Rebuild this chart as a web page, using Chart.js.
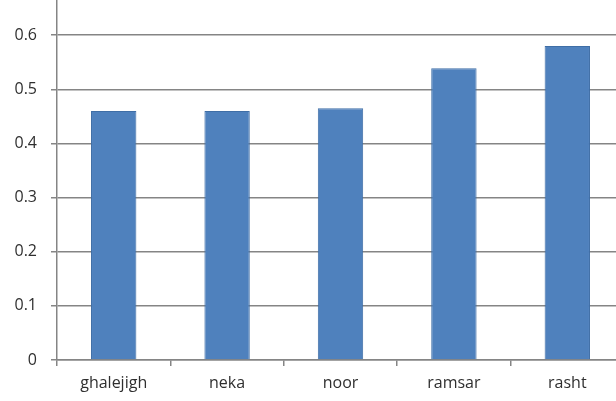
<!DOCTYPE html>
<html>
<head>
<meta charset="utf-8">
<script src="https://cdn.jsdelivr.net/npm/chart.js@4.4.1/dist/chart.umd.min.js"></script>
<style>
  html, body { margin: 0; padding: 0; background: #fff; overflow: hidden; }
  #wrap { width: 624px; height: 401px; }
</style>
</head>
<body>
<div id="wrap"><canvas id="barChart"></canvas></div>
<script>
var cities = ["ghalejigh", "neka", "noor", "ramsar", "rasht"];
var values = [0.46, 0.46, 0.465, 0.539, 0.58];
var yTicks = [0, 0.1, 0.2, 0.3, 0.4, 0.5, 0.6];

var ctx = document.getElementById("barChart").getContext('2d');
var barChart = new Chart(ctx, {
  type: 'bar',
  data: {
    labels: cities,
    datasets: [{
      label: "value",
      data: values,
      backgroundColor: '#4f81bd',
      borderColor: '#3f6ea6',
      borderWidth: 1,
      barPercentage: 0.4,
      categoryPercentage: 1
    }]
  },
  options: {
    responsive: true,
    maintainAspectRatio: false,
    animation: false,
    layout: { padding: 0 },
    plugins: {
      legend: { display: false },
      tooltip: { enabled: false }
    },
    scales: {
      x: {
        offset: true,
        grid: {
          offset: true,
          drawOnChartArea: false,
          drawTicks: true,
          tickLength: 6,
          color: '#858585',
          lineWidth: 1.5
        },
        border: { color: '#858585', width: 1.5 },
        ticks: {
          color: '#2f2f2f',
          padding: 8,
          maxRotation: 0,
          font: { family: 'Open Sans', size: 16 }
        },
        afterFit: function (scale) {
          scale.height = 41;
          scale.paddingLeft = 0;
          scale.paddingRight = 0;
        }
      },
      y: {
        min: 0,
        max: 0.665,
        afterBuildTicks: function (scale) {
          scale.ticks = yTicks.map(function (v) { return { value: v }; });
        },
        grid: {
          color: '#858585',
          lineWidth: 1.5,
          tickLength: 6
        },
        border: { color: '#858585', width: 1.5 },
        ticks: {
          color: '#2f2f2f',
          padding: 14,
          font: { family: 'Open Sans', size: 16 },
          callback: function (v) { return v === 0 ? '0' : v.toFixed(1); }
        },
        afterFit: function (scale) {
          scale.width = 57;
          scale.paddingTop = 0;
          scale.paddingBottom = 0;
        }
      }
    }
  }
});
</script>
</body>
</html>
